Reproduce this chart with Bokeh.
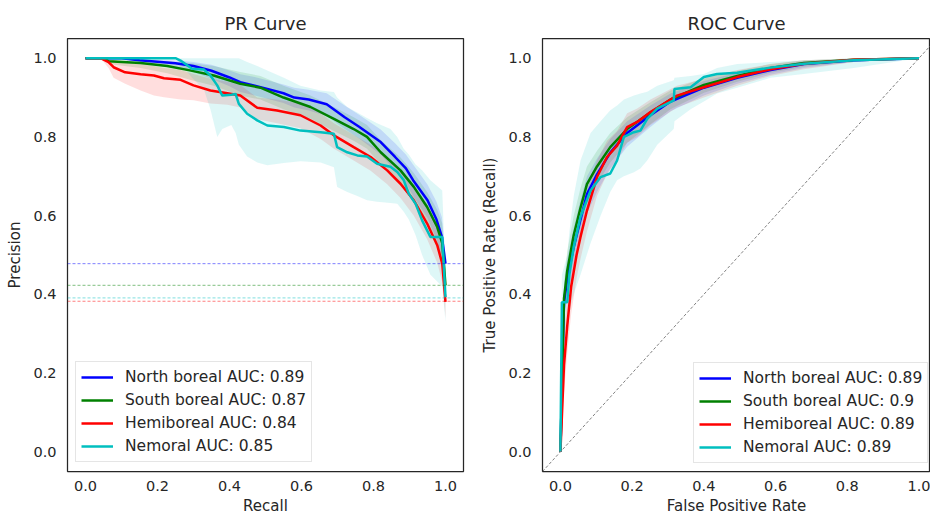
from bokeh.plotting import figure
from bokeh.layouts import row
from bokeh.models import Span, Slope, Legend, LegendItem, Range1d, NumeralTickFormatter, FixedTicker
from bokeh.embed import file_html
from bokeh.resources import INLINE

# ---------------- data ----------------
names = ["North boreal", "South boreal", "Hemiboreal", "Nemoral"]
colors = ["#0000ff", "#008000", "#ff0000", "#00bfbf"]
pr_auc = ["0.89", "0.87", "0.84", "0.85"]
roc_auc = ["0.89", "0.9", "0.89", "0.89"]
baselines = [0.478, 0.423, 0.3825, 0.391]

# PR curves: recall, mean precision, lower, upper
pr_nb_r = [0, 0.10, 0.15, 0.20, 0.25, 0.30, 0.35, 0.40, 0.43, 0.47, 0.505, 0.55, 0.58, 0.62, 0.67, 0.72, 0.76, 0.82, 0.86, 0.89, 0.91, 0.95, 0.975, 0.99, 1.0]
pr_nb_p = [1.0, 1.0, 0.995, 0.991, 0.987, 0.98, 0.968, 0.951, 0.939, 0.93, 0.922, 0.911, 0.90, 0.895, 0.883, 0.85, 0.826, 0.787, 0.749, 0.72, 0.69, 0.639, 0.59, 0.546, 0.478]
pr_nb_lo = [1.0, 1.0, 0.99, 0.981, 0.975, 0.965, 0.948, 0.929, 0.914, 0.905, 0.897, 0.886, 0.875, 0.867, 0.853, 0.82, 0.796, 0.755, 0.714, 0.682, 0.65, 0.594, 0.54, 0.486, 0.43]
pr_nb_hi = [1.0, 1.0, 0.998, 0.996, 0.995, 0.99, 0.983, 0.969, 0.959, 0.952, 0.944, 0.933, 0.925, 0.92, 0.911, 0.88, 0.856, 0.819, 0.784, 0.755, 0.73, 0.679, 0.635, 0.596, 0.50]

pr_sb_r = [0, 0.05, 0.064, 0.153, 0.227, 0.29, 0.356, 0.43, 0.486, 0.55, 0.625, 0.69, 0.745, 0.782, 0.82, 0.875, 0.912, 0.949, 0.977, 0.991, 1.0]
pr_sb_p = [1.0, 1.0, 0.992, 0.988, 0.98, 0.969, 0.956, 0.935, 0.925, 0.90, 0.876, 0.846, 0.82, 0.80, 0.761, 0.715, 0.673, 0.622, 0.571, 0.53, 0.423]
pr_sb_lo = [1.0, 1.0, 0.985, 0.975, 0.962, 0.945, 0.93, 0.905, 0.895, 0.87, 0.846, 0.815, 0.79, 0.77, 0.73, 0.683, 0.64, 0.585, 0.525, 0.475, 0.40]
pr_sb_hi = [1.0, 1.0, 0.998, 0.996, 0.993, 0.988, 0.98, 0.965, 0.955, 0.93, 0.905, 0.876, 0.85, 0.83, 0.792, 0.748, 0.708, 0.66, 0.615, 0.58, 0.45]

pr_hb_r = [0, 0.042, 0.064, 0.078, 0.11, 0.153, 0.19, 0.218, 0.264, 0.30, 0.347, 0.394, 0.43, 0.477, 0.532, 0.597, 0.653, 0.69, 0.745, 0.792, 0.838, 0.875, 0.912, 0.949, 0.977, 0.991, 1.0]
pr_hb_p = [1.0, 1.0, 0.99, 0.977, 0.964, 0.959, 0.956, 0.949, 0.945, 0.931, 0.918, 0.911, 0.905, 0.874, 0.867, 0.855, 0.829, 0.804, 0.774, 0.749, 0.715, 0.681, 0.639, 0.58, 0.525, 0.478, 0.381]
pr_hb_lo = [1.0, 1.0, 0.975, 0.95, 0.935, 0.918, 0.905, 0.901, 0.895, 0.893, 0.885, 0.882, 0.875, 0.845, 0.835, 0.822, 0.795, 0.77, 0.74, 0.714, 0.68, 0.645, 0.6, 0.54, 0.48, 0.43, 0.34]
pr_hb_hi = [1.0, 1.0, 0.998, 0.995, 0.99, 0.985, 0.98, 0.975, 0.97, 0.96, 0.948, 0.94, 0.932, 0.9, 0.895, 0.885, 0.86, 0.835, 0.805, 0.78, 0.748, 0.715, 0.675, 0.62, 0.57, 0.525, 0.42]

pr_ne_r = [0, 0.25, 0.264, 0.296, 0.329, 0.347, 0.366, 0.38, 0.405, 0.417, 0.426, 0.449, 0.477, 0.505, 0.551, 0.597, 0.653, 0.69, 0.699, 0.727, 0.755, 0.782, 0.81, 0.847, 0.866, 0.884, 0.898, 0.917, 0.935, 0.958, 0.991, 1.0]
pr_ne_p = [1.0, 1.0, 0.994, 0.973, 0.971, 0.956, 0.931, 0.905, 0.907, 0.909, 0.884, 0.859, 0.842, 0.829, 0.825, 0.816, 0.812, 0.808, 0.774, 0.761, 0.753, 0.75, 0.732, 0.724, 0.711, 0.69, 0.656, 0.63, 0.588, 0.546, 0.546, 0.393]
pr_ne_lo = [1.0, 1.0, 0.985, 0.95, 0.92, 0.87, 0.80, 0.82, 0.83, 0.81, 0.78, 0.75, 0.735, 0.728, 0.734, 0.738, 0.735, 0.723, 0.673, 0.66, 0.65, 0.639, 0.635, 0.632, 0.63, 0.61, 0.59, 0.55, 0.50, 0.45, 0.42, 0.33]
pr_ne_hi = [1.0, 1.0, 1.0, 1.0, 1.0, 1.0, 1.0, 1.0, 1.0, 1.0, 1.0, 0.99, 0.98, 0.969, 0.95, 0.93, 0.918, 0.914, 0.90, 0.876, 0.862, 0.848, 0.835, 0.82, 0.80, 0.77, 0.755, 0.73, 0.715, 0.69, 0.664, 0.45]

# ROC curves: false positive rate, mean TPR, lower, upper
roc_nb_f = [0, 0.01, 0.019, 0.037, 0.056, 0.074, 0.102, 0.139, 0.186, 0.251, 0.307, 0.40, 0.493, 0.586, 0.679, 0.818, 1.0]
roc_nb_t = [0, 0.38, 0.44, 0.52, 0.59, 0.655, 0.705, 0.76, 0.81, 0.855, 0.89, 0.925, 0.95, 0.97, 0.985, 0.995, 1.0]
roc_nb_lo = [0, 0.34, 0.39, 0.47, 0.54, 0.605, 0.66, 0.72, 0.775, 0.825, 0.865, 0.905, 0.935, 0.958, 0.975, 0.99, 1.0]
roc_nb_hi = [0, 0.42, 0.49, 0.57, 0.64, 0.70, 0.745, 0.795, 0.84, 0.88, 0.91, 0.942, 0.963, 0.98, 0.992, 0.998, 1.0]

roc_sb_f = [0, 0.01, 0.019, 0.037, 0.056, 0.074, 0.102, 0.139, 0.186, 0.251, 0.307, 0.40, 0.493, 0.586, 0.679, 0.818, 1.0]
roc_sb_t = [0, 0.39, 0.46, 0.55, 0.62, 0.68, 0.725, 0.774, 0.82, 0.862, 0.895, 0.932, 0.955, 0.975, 0.988, 0.996, 1.0]
roc_sb_lo = [0, 0.35, 0.41, 0.50, 0.57, 0.63, 0.68, 0.735, 0.785, 0.832, 0.87, 0.912, 0.94, 0.963, 0.978, 0.99, 1.0]
roc_sb_hi = [0, 0.43, 0.51, 0.60, 0.67, 0.725, 0.765, 0.81, 0.85, 0.888, 0.918, 0.95, 0.968, 0.985, 0.995, 0.999, 1.0]

roc_hb_f = [0, 0.01, 0.019, 0.03, 0.045, 0.056, 0.074, 0.102, 0.13, 0.158, 0.186, 0.214, 0.251, 0.325, 0.40, 0.493, 0.586, 0.679, 0.818, 1.0]
roc_hb_t = [0, 0.22, 0.32, 0.42, 0.50, 0.546, 0.613, 0.698, 0.749, 0.778, 0.825, 0.838, 0.863, 0.905, 0.926, 0.952, 0.972, 0.986, 0.996, 1.0]
roc_hb_lo = [0, 0.15, 0.25, 0.35, 0.44, 0.49, 0.56, 0.65, 0.705, 0.74, 0.785, 0.80, 0.83, 0.875, 0.90, 0.93, 0.955, 0.972, 0.99, 1.0]
roc_hb_hi = [0, 0.30, 0.40, 0.49, 0.56, 0.60, 0.665, 0.74, 0.79, 0.815, 0.86, 0.872, 0.895, 0.93, 0.948, 0.97, 0.985, 0.995, 0.999, 1.0]

roc_ne_f = [0, 0.004, 0.019, 0.025, 0.037, 0.056, 0.084, 0.112, 0.139, 0.158, 0.177, 0.205, 0.223, 0.242, 0.27, 0.316, 0.318, 0.363, 0.40, 0.437, 0.493, 0.586, 0.679, 0.818, 1.0]
roc_ne_t = [0, 0.38, 0.38, 0.45, 0.52, 0.597, 0.664, 0.698, 0.707, 0.74, 0.80, 0.812, 0.816, 0.846, 0.872, 0.893, 0.922, 0.926, 0.952, 0.96, 0.963, 0.976, 0.986, 0.995, 1.0]
roc_ne_lo = [0, 0.30, 0.32, 0.36, 0.40, 0.45, 0.53, 0.60, 0.66, 0.69, 0.70, 0.71, 0.72, 0.74, 0.78, 0.82, 0.84, 0.87, 0.89, 0.91, 0.925, 0.95, 0.96, 0.975, 1.0]
roc_ne_hi = [0, 0.45, 0.50, 0.56, 0.65, 0.74, 0.81, 0.84, 0.868, 0.88, 0.895, 0.905, 0.91, 0.915, 0.93, 0.944, 0.95, 0.955, 0.96, 0.975, 0.985, 0.99, 0.995, 1.0, 1.0]

ticks = [0.0, 0.2, 0.4, 0.6, 0.8, 1.0]

FONT = "DejaVu Sans"
TXT = "#262626"


def style(p, xlabel, ylabel):
    p.title.text_font = FONT
    p.title.text_font_size = "18px"
    p.title.text_font_style = "normal"
    p.title.text_color = TXT
    p.title.align = "center"
    p.xgrid.visible = False
    p.ygrid.visible = False
    p.outline_line_color = "#262626"
    p.outline_line_width = 1.25
    p.outline_line_alpha = 1
    for ax, lab in ((p.xaxis, xlabel), (p.yaxis, ylabel)):
        ax.axis_label = lab
        ax.axis_label_text_font = FONT
        ax.axis_label_text_font_size = "15px"
        ax.axis_label_text_font_style = "normal"
        ax.axis_label_text_color = TXT
        ax.major_label_text_font = FONT
        ax.major_label_text_font_size = "14.5px"
        ax.major_label_text_color = TXT
        ax.axis_line_color = None
        ax.major_tick_line_color = None
        ax.minor_tick_line_color = None
        ax.major_tick_out = 0
        ax.major_tick_in = 0
        ax.ticker = FixedTicker(ticks=ticks)
        ax.formatter = NumeralTickFormatter(format="0.0")
    p.xaxis.major_label_standoff = 9
    p.xaxis.axis_label_standoff = 3
    p.yaxis.major_label_standoff = 11
    p.yaxis.axis_label_standoff = 6


def make_legend(items, loc):
    lg = Legend(items=items, location=loc)
    lg.label_text_font = FONT
    lg.label_text_font_size = "15.5px"
    lg.label_text_color = TXT
    lg.glyph_width = 32
    lg.glyph_height = 20
    lg.label_height = 20
    lg.label_standoff = 12
    lg.spacing = 3
    lg.padding = 5
    lg.margin = 0
    lg.border_line_color = "#cccccc"
    lg.border_line_width = 1
    lg.background_fill_alpha = 0.8
    return lg


# ---------------- PR figure ----------------
p1 = figure(width=470, height=517, title="PR Curve", output_backend="svg", toolbar_location=None,
            x_range=Range1d(-0.05, 1.05), y_range=Range1d(-0.05, 1.05),
            min_border_left=67, min_border_right=7, min_border_top=38, min_border_bottom=46)
style(p1, "Recall", "Precision")

pr_sets = [(pr_nb_r, pr_nb_p, pr_nb_lo, pr_nb_hi), (pr_sb_r, pr_sb_p, pr_sb_lo, pr_sb_hi),
           (pr_hb_r, pr_hb_p, pr_hb_lo, pr_hb_hi), (pr_ne_r, pr_ne_p, pr_ne_lo, pr_ne_hi)]
items1 = []
for (r, pm, lo, hi), c in zip(pr_sets, colors):
    p1.varea(x=r, y1=lo, y2=hi, fill_color=c, fill_alpha=0.13)
for (r, pm, lo, hi), c, n, a in zip(pr_sets, colors, names, pr_auc):
    ln = p1.line(r, pm, line_color=c, line_width=2.5)
    items1.append(LegendItem(label=f"{n} AUC: {a}", renderers=[ln]))
for b, c in zip(baselines, colors):
    p1.add_layout(Span(location=b, dimension="width", line_color=c, line_alpha=0.5,
                       line_width=1, line_dash="3 2"))
p1.add_layout(make_legend(items1, (8, 9)))

# ---------------- ROC figure ----------------
p2 = figure(width=460, height=517, title="ROC Curve", output_backend="svg", toolbar_location=None,
            x_range=Range1d(-0.05, 1.032), y_range=Range1d(-0.05, 1.05),
            min_border_left=72, min_border_right=0, min_border_top=38, min_border_bottom=46)
style(p2, "False Positive Rate", "True Positive Rate (Recall)")

roc_sets = [(roc_nb_f, roc_nb_t, roc_nb_lo, roc_nb_hi), (roc_sb_f, roc_sb_t, roc_sb_lo, roc_sb_hi),
            (roc_hb_f, roc_hb_t, roc_hb_lo, roc_hb_hi), (roc_ne_f, roc_ne_t, roc_ne_lo, roc_ne_hi)]
p2.add_layout(Slope(gradient=1, y_intercept=0, line_color="#808080", line_width=1, line_dash="3 2"))
items2 = []
for (f, t, lo, hi), c in zip(roc_sets, colors):
    p2.varea(x=f, y1=lo, y2=hi, fill_color=c, fill_alpha=0.13)
for (f, t, lo, hi), c, n, a in zip(roc_sets, colors, names, roc_auc):
    ln = p2.line(f, t, line_color=c, line_width=2.5)
    items2.append(LegendItem(label=f"{n} AUC: {a}", renderers=[ln]))
p2.add_layout(make_legend(items2, (151, 8)))

layout = row(p1, p2)
open("out.html", "w").write(file_html(layout, INLINE))
